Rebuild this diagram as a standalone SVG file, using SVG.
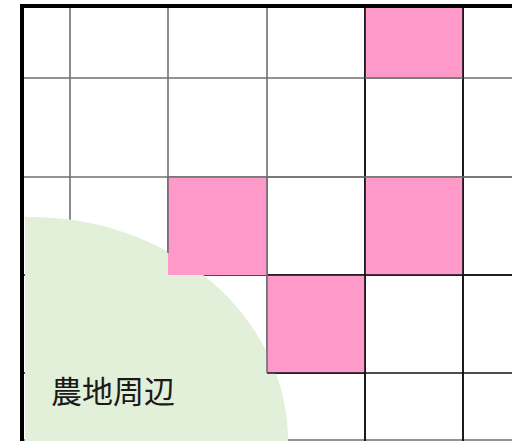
<svg xmlns="http://www.w3.org/2000/svg" width="512" height="441" viewBox="0 0 512 441">
<style>
.pink{fill:#FF99CA}
.g{stroke:#6f6f6f;stroke-width:1.6;fill:none}
.k{stroke:#111;stroke-width:1.6;fill:none}
.lbl{font-family:"Noto Sans CJK JP","Noto Sans",sans-serif;font-size:31px;fill:#1a1a1a}
</style>
<rect width="512" height="441" fill="#fff"/>
<g id="grid">
<line class="g" x1="22" y1="78" x2="512" y2="78"/>
<line class="g" x1="22" y1="177" x2="512" y2="177"/>
<line class="k" x1="22" y1="275" x2="512" y2="275"/>
<line class="k" x1="22" y1="373" x2="512" y2="373"/>
<line class="g" x1="22" y1="440" x2="512" y2="440"/>
<line class="g" x1="70" y1="6" x2="70" y2="441"/>
<line class="g" x1="168" y1="6" x2="168" y2="441"/>
<line class="g" x1="267" y1="6" x2="267" y2="441"/>
<line class="k" x1="365" y1="6" x2="365" y2="441"/>
<line class="k" x1="463" y1="6" x2="463" y2="441"/>
</g>
<g id="farm">
<path d="M25,217 A258,224 0 0 1 288,441 L25,441 Z" fill="#E2EFD9"/>
<text class="lbl" x="51" y="403">農地周辺</text>
</g>
<g id="cells">
<rect class="pink" x="365" y="6" width="98" height="72"/>
<rect class="pink" x="168" y="177" width="99" height="98"/>
<rect class="pink" x="365" y="177" width="98" height="98"/>
<rect class="pink" x="267" y="275" width="98" height="98"/>
<line class="k" x1="365" y1="6" x2="365" y2="441"/>
<line class="k" x1="463" y1="6" x2="463" y2="441"/>
<line class="k" x1="267" y1="275" x2="512" y2="275"/>
<line class="k" x1="267" y1="373" x2="365" y2="373"/>
<line class="g" x1="267" y1="177" x2="267" y2="373"/>
<line class="g" x1="168" y1="177" x2="168" y2="253"/>
<line class="g" x1="168" y1="177" x2="512" y2="177"/>
<line class="g" x1="365" y1="78" x2="463" y2="78"/>
</g>
<g id="border">
<rect x="20" y="4" width="492" height="4" fill="#000"/>
<rect x="20" y="4" width="4" height="437" fill="#000"/>
</g>
</svg>
